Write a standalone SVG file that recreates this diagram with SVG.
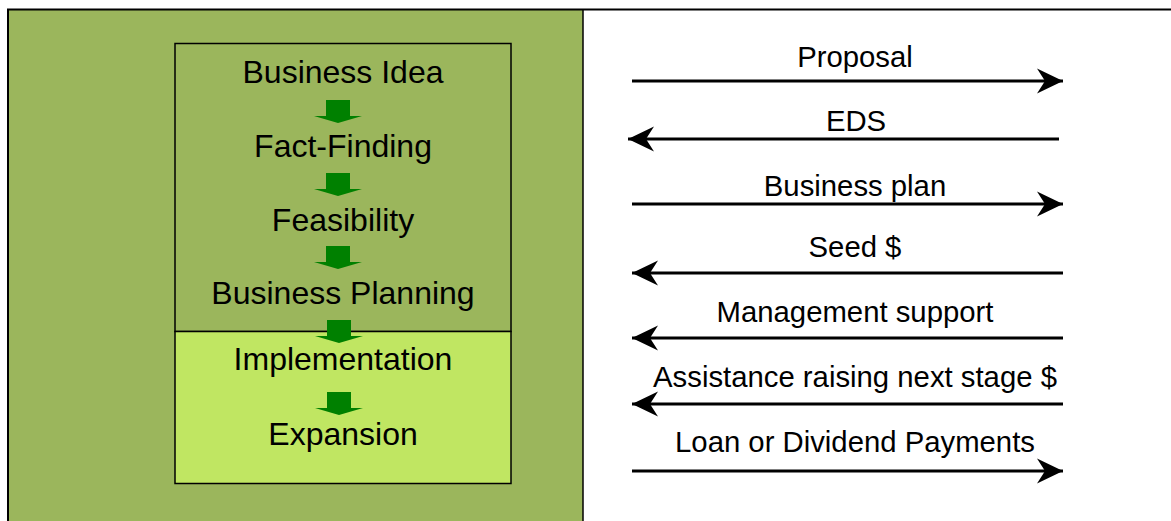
<svg xmlns="http://www.w3.org/2000/svg" width="1171" height="521" viewBox="0 0 1171 521">
<style>
.lt{font-family:"Liberation Sans",Arial,sans-serif;font-size:32px;fill:#000;text-anchor:middle}
.rt{font-family:"Liberation Sans",Arial,sans-serif;font-size:29.3px;fill:#000;text-anchor:middle}
.ln{stroke:#000;stroke-width:3;fill:none}
.ga{fill:#008000}
</style>
<defs>
<marker id="ah" viewBox="0 0 26 26" refX="26" refY="13" markerWidth="26" markerHeight="26" markerUnits="userSpaceOnUse" orient="auto-start-reverse">
<path d="M26,13 L0,0.5 L8,13 L0,25.5 Z" fill="#000"/>
</marker>
<polygon id="garrow" points="-12,0 12,0 12,16 24,16 0,23 -24,16 -12,16"/>
</defs>
<rect width="1171" height="521" fill="#fff"/>
<g id="background">
<rect x="8" y="9.5" width="575" height="520" fill="#9BB65C"/>
<rect x="8" y="9.5" width="1200" height="600" fill="none" stroke="#000" stroke-width="2"/>
<line x1="583" y1="9.5" x2="583" y2="521" stroke="#000" stroke-width="1.5"/>
</g>
<g id="stages">
<rect x="175" y="43.5" width="336" height="288" fill="#9BB65C" stroke="#000" stroke-width="1.5"/>
<rect x="175" y="331.5" width="336" height="152" fill="#C0E662" stroke="#000" stroke-width="1.5"/>
</g>
<g id="stage-arrows" class="ga">
<use href="#garrow" x="338" y="100"/>
<use href="#garrow" x="338" y="173"/>
<use href="#garrow" x="338" y="246"/>
<use href="#garrow" x="339" y="320"/>
<use href="#garrow" x="339" y="392"/>
</g>
<g id="stage-labels">
<text class="lt" x="343" y="83">Business Idea</text>
<text class="lt" x="343" y="157">Fact-Finding</text>
<text class="lt" x="343" y="231">Feasibility</text>
<text class="lt" x="343" y="304">Business Planning</text>
<text class="lt" x="343" y="370">Implementation</text>
<text class="lt" x="343" y="445">Expansion</text>
</g>
<g id="connectors">
<line class="ln" x1="632" y1="81" x2="1063" y2="81" marker-end="url(#ah)"/>
<line class="ln" x1="628" y1="139" x2="1059" y2="139" marker-start="url(#ah)"/>
<line class="ln" x1="632" y1="204" x2="1063" y2="204" marker-end="url(#ah)"/>
<line class="ln" x1="632" y1="273" x2="1063" y2="273" marker-start="url(#ah)"/>
<line class="ln" x1="632" y1="338" x2="1063" y2="338" marker-start="url(#ah)"/>
<line class="ln" x1="632" y1="404" x2="1063" y2="404" marker-start="url(#ah)"/>
<line class="ln" x1="632" y1="471" x2="1063" y2="471" marker-end="url(#ah)"/>
</g>
<g id="connector-labels">
<text class="rt" x="855" y="67">Proposal</text>
<text class="rt" x="856" y="131">EDS</text>
<text class="rt" x="855" y="196">Business plan</text>
<text class="rt" x="855" y="257">Seed $</text>
<text class="rt" x="855" y="322">Management support</text>
<text class="rt" x="855" y="387">Assistance raising next stage $</text>
<text class="rt" x="855" y="452">Loan or Dividend Payments</text>
</g>
</svg>
